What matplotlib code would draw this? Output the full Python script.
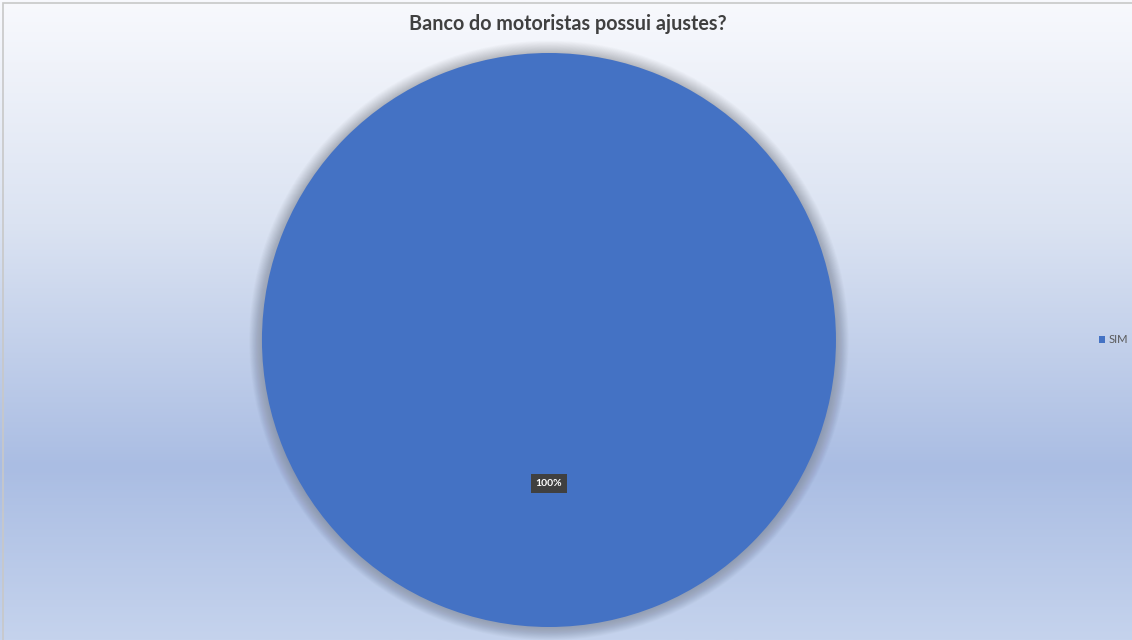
import numpy as np
import matplotlib.pyplot as plt
from matplotlib.colors import LinearSegmentedColormap
from matplotlib.patches import Circle, Rectangle

title = 'Banco do motoristas possui ajustes?'
labels = ['SIM']
values = [100]
colors = ['#4472c4']

fig = plt.figure(figsize=(11.32, 6.4), dpi=100)

# background gradient, light at the top, blue near the bottom
bg = fig.add_axes([0, 0, 1, 1])
bg.axis('off')
cmap = LinearSegmentedColormap.from_list(
    'bg', [(0.0, '#f8f9fd'), (0.35, '#dbe3f2'), (0.73, '#aabde3'), (1.0, '#c5d3ed')])
grad = np.linspace(0, 1, 256).reshape(-1, 1)
bg.imshow(grad, aspect='auto', cmap=cmap, extent=[0, 1, 0, 1], origin='upper')
bg.set_xlim(0, 1)
bg.set_ylim(0, 1)
bg.add_patch(Rectangle((0.003, -0.01), 1.1, 1.005, fill=False, ec='#c8c8c8', lw=1.2))

ax = fig.add_axes([0.2314, 0.0203, 0.5071, 0.8969])

# soft shadow behind the pie
for i in range(30):
    r = 1.0 + 0.0015 * (i + 1)
    ax.add_patch(Circle((0, -0.002), r, color='#505868', alpha=0.012, lw=0,
                        zorder=0, clip_on=False))

wedges, texts, autotexts = ax.pie(
    values, colors=colors, startangle=90, counterclock=False,
    autopct='%1.0f%%', pctdistance=0.5,
    wedgeprops=dict(lw=0),
    textprops=dict(color='white', fontsize=7.5, fontweight='bold', family='Lato'))
for t in autotexts:
    t.set_bbox(dict(boxstyle='square,pad=0.45', fc='#404040', ec='none'))
ax.set_xlim(-1, 1)
ax.set_ylim(-1, 1)
ax.set_aspect('equal')
ax.axis('off')

fig.text(0.502, 0.963, title, ha='center', va='center', fontsize=14.2,
         fontweight='bold', color='#404040', family='Lato')

fig.legend(wedges, labels, loc='center left', bbox_to_anchor=(0.962, 0.469),
           frameon=False, labelcolor='#595959',
           handlelength=0.55, handleheight=0.55, handletextpad=0.35,
           prop=dict(family='Lato', size=8))

fig.savefig('out.png', dpi=100)
